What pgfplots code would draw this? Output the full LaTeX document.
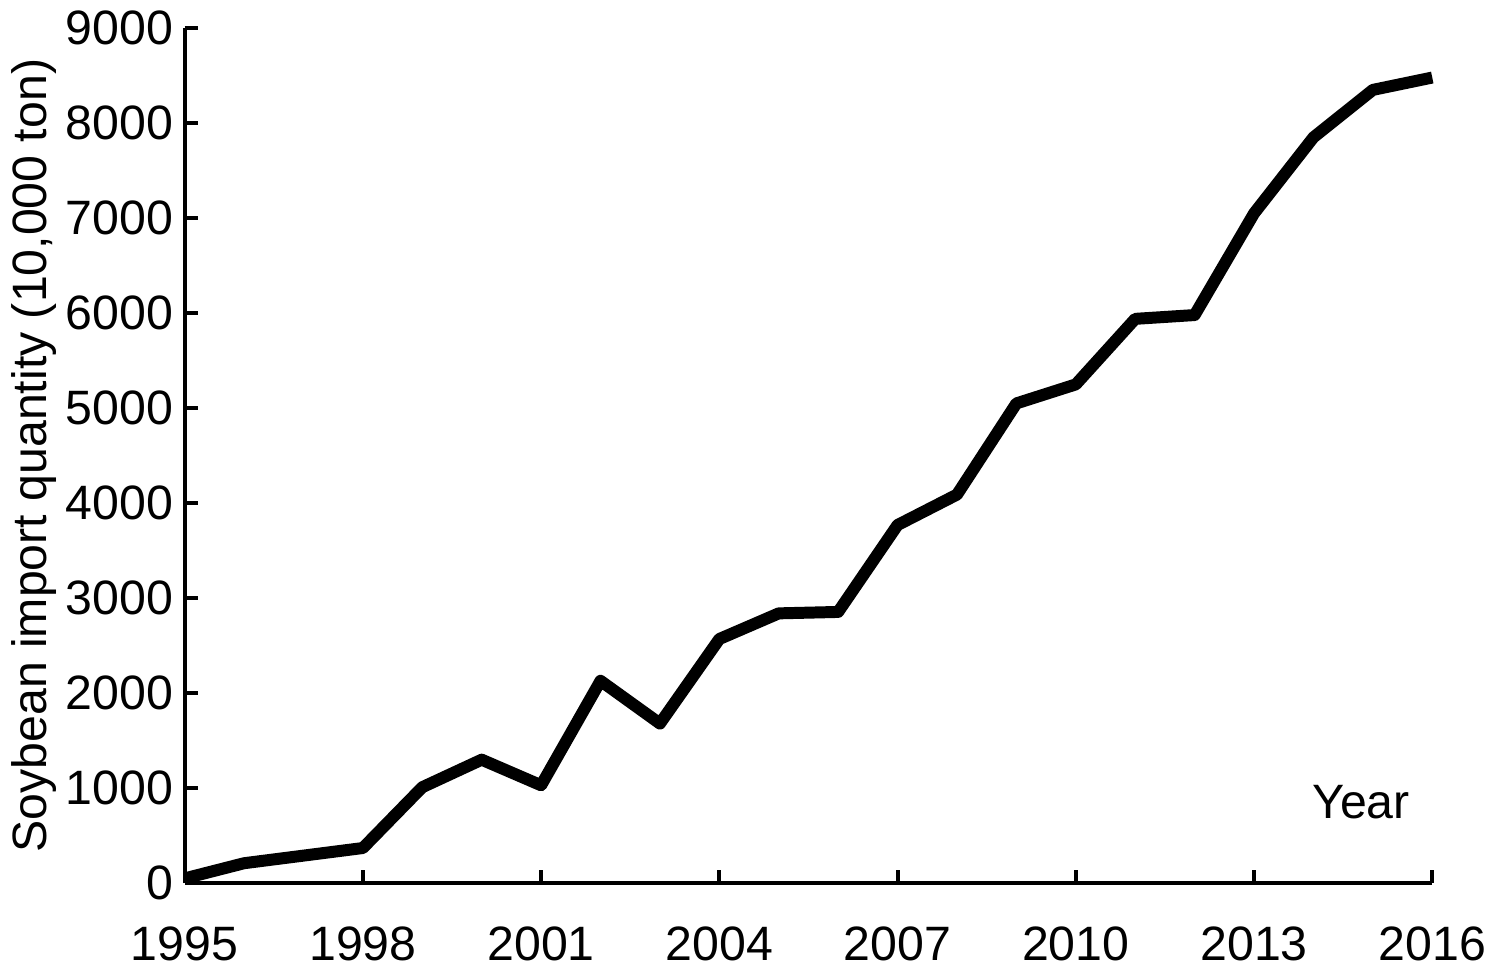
\documentclass[border=0pt]{standalone}
\usepackage{fontspec}
\setmainfont{Liberation Sans}
\usepackage{pgfplots}
\pgfplotsset{compat=1.18}

\begin{document}
\begin{tikzpicture}
\begin{axis}[
  scale only axis,
  width=375pt, height=257pt,
  xmin=1995, xmax=2016, ymin=0, ymax=9000,
  axis lines*=left,
  axis line style={line width=1.2pt},
  xtick={1995,1998,...,2016},
  ytick={0,1000,...,9000},
  tick align=inside,
  major tick length=4pt,
  tick style={line width=1.2pt, black},
  xticklabel style={/pgf/number format/1000 sep={}, yshift=-9.5pt},
  yticklabel style={/pgf/number format/1000 sep={}},
  /pgf/number format/assume math mode=true,
  tick label style={font=\fontsize{14.5}{16}\selectfont},
  ylabel={Soybean import quantity (10,000 ton)},
  ylabel style={font=\fontsize{14.5}{16}\selectfont, yshift=-4pt},
  clip=false,
]
\addplot[black, line width=3.6pt, line join=round] coordinates {
  (1995,50) (1996,210) (1997,290) (1998,370) (1999,1010) (2000,1300)
  (2001,1030) (2002,2130) (2003,1680) (2004,2570) (2005,2840) (2006,2855)
  (2007,3770) (2008,4090) (2009,5050) (2010,5250) (2011,5940) (2012,5980)
  (2013,7050) (2014,7850) (2015,8350) (2016,8480)
};
\node[font=\fontsize{14.5}{16}\selectfont] at (axis cs:2014.8,850) {Year};
\end{axis}
\end{tikzpicture}
\end{document}
